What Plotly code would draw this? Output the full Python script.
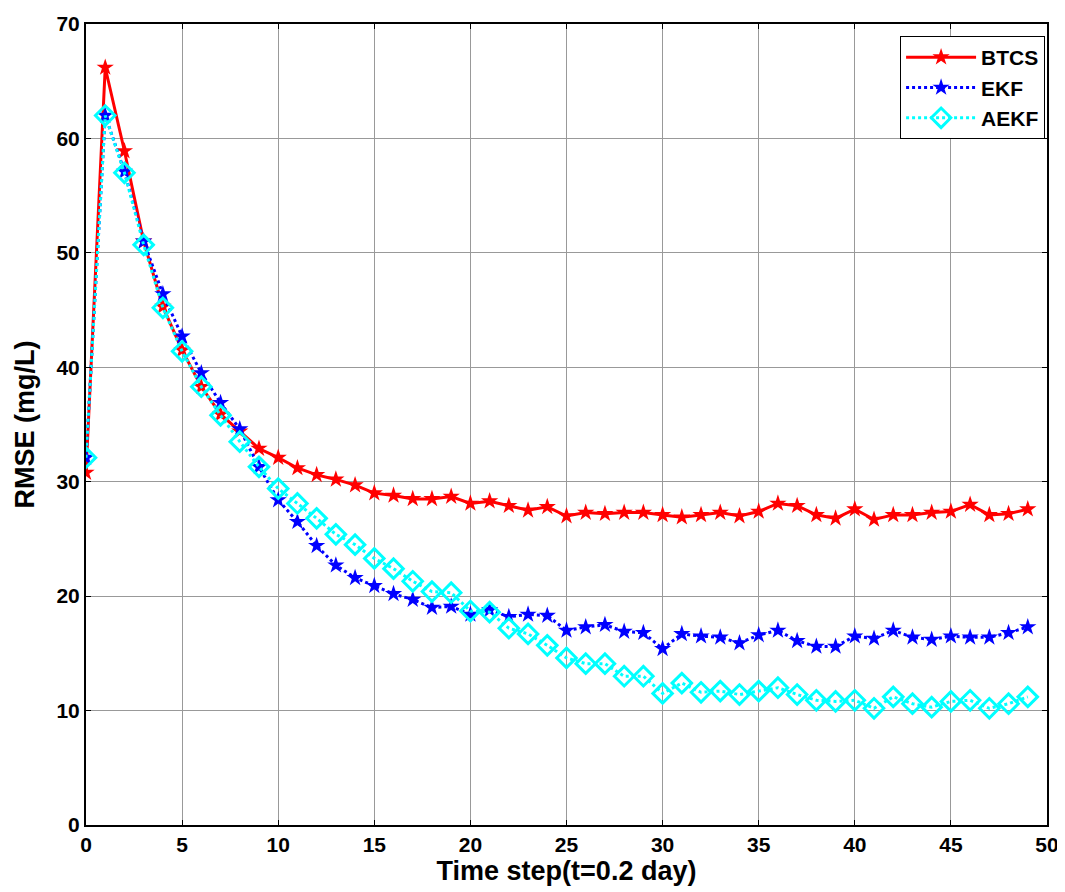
import plotly.graph_objects as go

steps = list(range(0, 50))

btcs = [30.8, 66.2, 58.9, 51.0, 45.3, 41.5, 38.3, 35.9, 34.4, 32.9,
        32.1, 31.2, 30.6, 30.2, 29.7, 29.0, 28.8, 28.5, 28.5, 28.7,
        28.1, 28.3, 27.9, 27.5, 27.8, 27.0, 27.3, 27.2, 27.3, 27.3,
        27.1, 26.9, 27.1, 27.3, 27.0, 27.4, 28.1, 27.9, 27.1, 26.8,
        27.6, 26.7, 27.1, 27.1, 27.3, 27.4, 28.0, 27.1, 27.2, 27.6]

ekf = [32.1, 62.0, 57.1, 51.0, 46.4, 42.7, 39.5, 36.9, 34.6, 31.3,
       28.4, 26.5, 24.4, 22.7, 21.6, 20.9, 20.2, 19.7, 19.0, 19.1,
       18.4, 18.8, 18.2, 18.4, 18.3, 17.0, 17.3, 17.5, 16.9, 16.8,
       15.4, 16.7, 16.5, 16.4, 15.9, 16.6, 17.0, 16.1, 15.6, 15.6,
       16.5, 16.3, 17.0, 16.4, 16.2, 16.5, 16.4, 16.4, 16.8, 17.3]

aekf = [32.1, 62.0, 57.0, 50.7, 45.2, 41.4, 38.3, 35.8, 33.5, 31.3,
        29.4, 28.1, 26.8, 25.4, 24.5, 23.3, 22.4, 21.3, 20.4, 20.3,
        18.7, 18.6, 17.2, 16.7, 15.7, 14.6, 14.1, 14.1, 13.0, 13.0,
        11.5, 12.4, 11.6, 11.7, 11.4, 11.7, 12.0, 11.4, 10.9, 10.8,
        10.9, 10.2, 11.2, 10.6, 10.3, 10.8, 10.9, 10.2, 10.6, 11.2]

x_ticks = list(range(0, 51, 5))
y_ticks = list(range(0, 71, 10))

fnt = "Liberation Sans, Arial, sans-serif"

fig = go.Figure()
fig.add_trace(go.Scatter(x=steps, y=btcs, name="BTCS", mode="lines+markers",
                         line=dict(color="#ff0000", width=3),
                         marker=dict(symbol="star", size=13, color="#ff0000")))
fig.add_trace(go.Scatter(x=steps, y=ekf, name="EKF", mode="lines+markers",
                         line=dict(color="#0000ff", width=3, dash="dot"),
                         marker=dict(symbol="star", size=13, color="#0000ff")))
fig.add_trace(go.Scatter(x=steps, y=aekf, name="AEKF", mode="lines+markers",
                         line=dict(color="#00ffff", width=3, dash="dot"),
                         marker=dict(symbol="diamond-open", size=15, color="#00ffff",
                                     line=dict(width=3, color="#00ffff"))))

axis_common = dict(showgrid=True, gridcolor="#999999", gridwidth=1,
                   showline=True, linecolor="black", linewidth=2, mirror="allticks",
                   ticks="inside", ticklen=5, tickcolor="black", zeroline=False,
                   automargin=False,
                   tickfont=dict(family=fnt, size=21, color="black", weight="bold"))

fig.update_xaxes(range=[0, 50], tickvals=x_ticks, **axis_common,
                 title=dict(text="Time step(t=0.2 day)", standoff=4,
                            font=dict(family=fnt, size=27, color="black", weight="bold")))
fig.update_yaxes(range=[0, 70], tickvals=y_ticks, **axis_common,
                 title=dict(text="RMSE (mg/L)", standoff=14,
                            font=dict(family=fnt, size=27, color="black", weight="bold")))

# page body adds ~8px offset, so the figure is a bit smaller than the window
fig.update_layout(width=1057, height=884, plot_bgcolor="white", paper_bgcolor="white",
                  margin=dict(l=78, r=18, t=16, b=67),
                  legend=dict(x=0.998, y=0.985, xanchor="right", yanchor="top",
                              bordercolor="black", borderwidth=1, bgcolor="white",
                              font=dict(family=fnt, size=21, color="black", weight="bold"),
                              itemwidth=70))

fig.write_html("out.html")
